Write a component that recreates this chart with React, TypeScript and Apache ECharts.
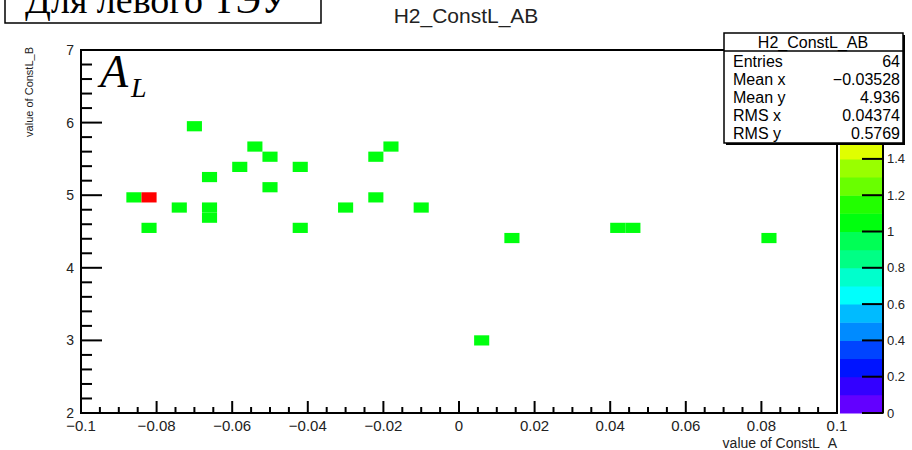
import { useEffect, useRef } from "react";
import * as echarts from "echarts";

// Histogram name and filled bins (bin centres and contents)
const HIST_NAME = "H2_ConstL_AB";
const binX = [
  -0.086, -0.082, -0.082, -0.074, -0.07, -0.066, -0.066, -0.066, -0.058, -0.054, -0.05, -0.05,
  -0.042, -0.042, -0.03, -0.022, -0.022, -0.018, -0.01, 0.006, 0.014, 0.042, 0.046, 0.082,
];
const binY = [
  4.97, 4.97, 4.55, 4.83, 5.95, 5.25, 4.83, 4.69, 5.39, 5.67, 5.53, 5.11,
  5.39, 4.55, 4.83, 5.53, 4.97, 5.67, 4.83, 3.0, 4.41, 4.55, 4.55, 4.41,
];
const binCount = [1, 2, 1, 1, 1, 1, 1, 1, 1, 1, 1, 1, 1, 1, 1, 1, 1, 1, 1, 1, 1, 1, 1, 1];

// Statistics box
const statLabels = ["Entries", "Mean x", "Mean y", "RMS x", "RMS y"];
const statValues = ["64", "\u22120.03528", "4.936", "0.04374", "0.5769"];

// Axis ranges and divisions
const X_MIN = -0.1;
const X_MAX = 0.1;
const X_STEP = 0.02;
const X_SUB = 4;
const Y_MIN = 2;
const Y_MAX = 7;
const Y_STEP = 1;
const Y_SUB = 5;
const Z_MIN = 0;
const Z_MAX = 2;
const Z_STEP = 0.2;

// Histogram binning
const BIN_W = 0.004;
const BIN_H = 0.1405;

// Colour contours: 20 levels over a 50-colour violet-to-red palette
const N_CONT = 20;
const N_COLORS = 50;
const bandColor = (j: number) => {
  const idx = Math.floor(((j + 0.99) * N_COLORS) / N_CONT);
  const hue = 280 - (idx + 1) * 5.6;
  return `hsl(${hue.toFixed(1)},100%,50%)`;
};
const zColor = (z: number) => {
  const j = Math.min(N_CONT - 1, Math.max(0, Math.floor(((z - Z_MIN) / (Z_MAX - Z_MIN)) * N_CONT + 1e-9)));
  return bandColor(j);
};

const fmt = (v: number) => {
  const r = Math.round(v * 1000) / 1000;
  if (r === 0) return "0";
  return r < 0 ? "\u2212" + String(-r) : String(r);
};

const SANS = "Liberation Sans";
const SERIF = "Liberation Serif";
const TICK = { stroke: "#000", lineWidth: 2 };

export default function App() {
  const ref = useRef<HTMLDivElement>(null);

  useEffect(() => {
    if (!ref.current) return;
    const chart = echarts.init(ref.current, undefined, { renderer: "svg" });

    const binData = binX.map((x, i) => [x, binY[i], binCount[i]]);
    const bandData = Array.from({ length: N_CONT }, (_, j) => {
      const lo = Z_MIN + ((Z_MAX - Z_MIN) * j) / N_CONT;
      const hi = Z_MIN + ((Z_MAX - Z_MIN) * (j + 1)) / N_CONT;
      return [0.5, lo, hi, j];
    });
    const bandsPerTick = Math.round(Z_STEP / ((Z_MAX - Z_MIN) / N_CONT));

    // frame of the main pad with its inward-pointing ticks
    const renderFrame = (_p: any, api: any) => {
      const tl = api.coord([X_MIN, Y_MAX]);
      const br = api.coord([X_MAX, Y_MIN]);
      const children: any[] = [
        {
          type: "rect",
          shape: { x: tl[0], y: tl[1], width: br[0] - tl[0], height: br[1] - tl[1] },
          style: { fill: "none", stroke: "#000", lineWidth: 2 },
        },
      ];
      const nx = Math.round((X_MAX - X_MIN) / (X_STEP / X_SUB));
      for (let k = 0; k <= nx; k++) {
        const v = X_MIN + (k * (X_MAX - X_MIN)) / nx;
        const p = api.coord([v, Y_MIN]);
        const len = k % X_SUB === 0 ? 12 : 6;
        children.push({ type: "line", shape: { x1: p[0], y1: p[1] - len, x2: p[0], y2: p[1] }, style: { ...TICK } });
      }
      const ny = Math.round((Y_MAX - Y_MIN) / (Y_STEP / Y_SUB));
      for (let k = 0; k <= ny; k++) {
        const v = Y_MIN + (k * (Y_MAX - Y_MIN)) / ny;
        const p = api.coord([X_MIN, v]);
        const len = k % Y_SUB === 0 ? 21 : 11;
        children.push({ type: "line", shape: { x1: p[0], y1: p[1], x2: p[0] + len, y2: p[1] }, style: { ...TICK } });
      }
      return { type: "group", children };
    };

    // one palette band, with its piece of the right-hand edge and (every other band) a tick
    const renderBand = (_p: any, api: any) => {
      const j = api.value(3);
      const p0 = api.coord([0, api.value(2)]);
      const p1 = api.coord([1, api.value(1)]);
      const children: any[] = [
        {
          type: "rect",
          z2: 0,
          shape: { x: p0[0], y: p0[1], width: p1[0] - p0[0], height: p1[1] - p0[1] + 0.5 },
          style: { fill: bandColor(j) },
        },
        {
          type: "rect",
          z2: 5,
          shape: { x: p1[0] - 1, y: p0[1] - 0.5, width: 2, height: p1[1] - p0[1] + 1 },
          style: { fill: "#000" },
        },
      ];
      if (j % bandsPerTick === 0) {
        children.push({
          type: "rect",
          z2: 5,
          shape: { x: p1[0] - 21, y: p1[1] - 1, width: 21, height: 2 },
          style: { fill: "#000" },
        });
      }
      return { type: "group", children };
    };

    const statRows: any[] = [];
    statLabels.forEach((lab, i) => {
      const y = 61 + i * 18;
      statRows.push({
        type: "text",
        z: 102,
        x: 733,
        y,
        style: { text: lab, font: `16px '${SANS}'`, fill: "#000", align: "left", verticalAlign: "middle" },
      });
      statRows.push({
        type: "text",
        z: 102,
        x: 900,
        y,
        style: { text: statValues[i], font: `16px '${SANS}'`, fill: "#000", align: "right", verticalAlign: "middle" },
      });
    });

    chart.setOption({
      animation: false,
      grid: [
        { left: 81, top: 50, width: 756, height: 363 },
        { left: 840, top: 50, width: 43, height: 363 },
      ],
      xAxis: [
        {
          type: "value",
          gridIndex: 0,
          min: X_MIN,
          max: X_MAX,
          interval: X_STEP,
          axisLine: { show: false },
          axisTick: { show: false },
          splitLine: { show: false },
          axisLabel: { margin: 5, fontSize: 15, color: "#222", fontFamily: SANS, formatter: fmt },
        },
        { type: "value", gridIndex: 1, min: 0, max: 1, show: false },
      ],
      yAxis: [
        {
          type: "value",
          gridIndex: 0,
          min: Y_MIN,
          max: Y_MAX,
          interval: Y_STEP,
          axisLine: { show: false },
          axisTick: { show: false },
          splitLine: { show: false },
          axisLabel: { margin: 7, fontSize: 14, color: "#222", fontFamily: SANS, formatter: fmt },
        },
        {
          type: "value",
          gridIndex: 1,
          min: Z_MIN,
          max: Z_MAX,
          interval: Z_STEP,
          position: "right",
          axisLine: { show: false },
          axisTick: { show: false },
          splitLine: { show: false },
          axisLabel: {
            margin: 4,
            fontSize: 13,
            color: "#222",
            fontFamily: SANS,
            formatter: (v: number) => (v > 1.5 ? "" : fmt(v)),
          },
        },
      ],
      series: [
        {
          type: "custom",
          name: HIST_NAME,
          xAxisIndex: 0,
          yAxisIndex: 0,
          data: binData,
          renderItem: (_p: any, api: any) => {
            const x = api.value(0);
            const y = api.value(1);
            const p0 = api.coord([x - BIN_W / 2, y + BIN_H / 2]);
            const p1 = api.coord([x + BIN_W / 2, y - BIN_H / 2]);
            return {
              type: "rect",
              shape: { x: p0[0], y: p0[1], width: p1[0] - p0[0], height: p1[1] - p0[1] },
              style: { fill: zColor(api.value(2)) },
            };
          },
        },
        {
          type: "custom",
          name: "frame",
          xAxisIndex: 0,
          yAxisIndex: 0,
          z: 5,
          silent: true,
          data: [[X_MIN, Y_MIN]],
          renderItem: renderFrame,
        },
        {
          type: "custom",
          name: "palette",
          xAxisIndex: 1,
          yAxisIndex: 1,
          data: bandData,
          renderItem: renderBand,
        },
      ],
      graphic: [
        // caption box at the top left
        {
          type: "rect",
          z: 100,
          shape: { x: 5, y: -5, width: 316, height: 28 },
          style: { fill: "#fff", stroke: "#000", lineWidth: 1.5 },
        },
        {
          type: "text",
          z: 101,
          x: 25,
          y: 0,
          style: { text: "Для левого ТЭУ", font: `38px '${SERIF}'`, fill: "#000", align: "left", verticalAlign: "middle" },
        },
        // histogram title
        {
          type: "text",
          z: 101,
          x: 466,
          y: 15,
          style: { text: HIST_NAME, font: `21px '${SANS}'`, fill: "#222", align: "center", verticalAlign: "middle" },
        },
        // A_L label inside the frame
        {
          type: "text",
          z: 101,
          x: 100,
          y: 71,
          style: { text: "A", font: `italic 46px '${SERIF}'`, fill: "#000", align: "left", verticalAlign: "middle" },
        },
        {
          type: "text",
          z: 101,
          x: 131,
          y: 87,
          style: { text: "L", font: `italic 28px '${SERIF}'`, fill: "#000", align: "left", verticalAlign: "middle" },
        },
        // axis titles
        {
          type: "text",
          z: 101,
          x: 837,
          y: 443,
          style: { text: "value of ConstL_A", font: `14px '${SANS}'`, fill: "#222", align: "right", verticalAlign: "middle" },
        },
        {
          type: "text",
          z: 101,
          x: 29,
          y: 47,
          rotation: Math.PI / 2,
          style: { text: "value of ConstL_B", font: `11px '${SANS}'`, fill: "#222", align: "right", verticalAlign: "middle" },
        },
        // statistics box
        {
          type: "rect",
          z: 100,
          shape: { x: 726, y: 35, width: 179, height: 110 },
          style: { fill: "#000" },
        },
        {
          type: "rect",
          z: 101,
          shape: { x: 724, y: 33, width: 179, height: 110 },
          style: { fill: "#fff", stroke: "#000", lineWidth: 1.5 },
        },
        {
          type: "line",
          z: 102,
          shape: { x1: 724, y1: 51, x2: 903, y2: 51 },
          style: { stroke: "#000", lineWidth: 1.5 },
        },
        {
          type: "text",
          z: 102,
          x: 813,
          y: 42,
          style: { text: HIST_NAME, font: `16px '${SANS}'`, fill: "#000", align: "center", verticalAlign: "middle" },
        },
        ...statRows,
      ],
    });

    return () => chart.dispose();
  }, []);

  return (
    <div
      ref={ref}
      style={{ position: "fixed", left: 0, top: 0, width: 912, height: 450, background: "#fff" }}
    />
  );
}
